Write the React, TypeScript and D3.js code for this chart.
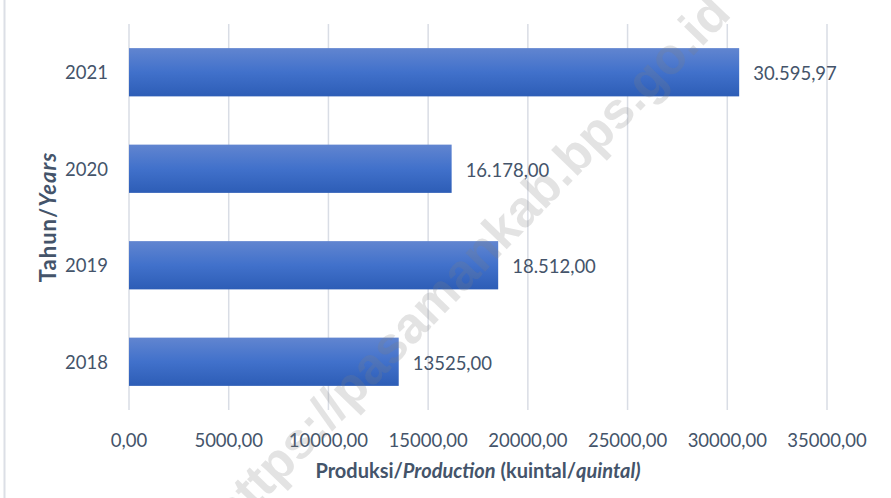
import { useEffect, useRef } from 'react'
import * as d3 from 'd3'

const years = ['2021', '2020', '2019', '2018']
const production = [30595.97, 16178.0, 18512.0, 13525.0]
const valueLabels = ['30.595,97', '16.178,00', '18.512,00', '13525,00']
const xTicks = [0, 5000, 10000, 15000, 20000, 25000, 30000, 35000]
const xMax = 35000

const width = 891
const height = 498
const textColor = '#44546a'
const font = 'Lato, "Open Sans", sans-serif'

export default function App() {
  const svgRef = useRef<SVGSVGElement>(null)

  useEffect(() => {
    if (!svgRef.current) return
    const svg = d3.select(svgRef.current)
    svg.selectAll('*').remove()

    const plot = { left: 129, right: 827, top: 24, bottom: 410 }

    const x = d3.scaleLinear().domain([0, xMax]).range([plot.left, plot.right])
    const y = d3.scaleBand<string>()
      .domain(years)
      .range([plot.top, plot.bottom])
      .paddingInner(0.5)
      .paddingOuter(0.25)

    const defs = svg.append('defs')
    const grad = defs.append('linearGradient')
      .attr('id', 'barGrad')
      .attr('x1', 0).attr('y1', 0).attr('x2', 0).attr('y2', 1)
    grad.append('stop').attr('offset', '0%').attr('stop-color', '#6185d0')
    grad.append('stop').attr('offset', '50%').attr('stop-color', '#4171cb')
    grad.append('stop').attr('offset', '100%').attr('stop-color', '#2d5db6')

    svg.append('rect')
      .attr('width', width).attr('height', height)
      .attr('fill', '#ffffff')

    // left frame edge
    svg.append('line')
      .attr('x1', 4.5).attr('x2', 4.5)
      .attr('y1', 0).attr('y2', height)
      .attr('stroke', '#dcdfe6')
      .attr('stroke-width', 2)

    // vertical gridlines
    svg.append('g')
      .selectAll('line')
      .data(xTicks)
      .enter().append('line')
      .attr('x1', d => x(d)).attr('x2', d => x(d))
      .attr('y1', plot.top).attr('y2', plot.bottom)
      .attr('stroke', '#d9dde5')
      .attr('stroke-width', 1.5)

    // bars
    svg.append('g')
      .selectAll('rect')
      .data(years)
      .enter().append('rect')
      .attr('x', x(0))
      .attr('y', d => y(d)!)
      .attr('width', (_, i) => x(production[i]) - x(0))
      .attr('height', y.bandwidth())
      .attr('fill', 'url(#barGrad)')

    // value labels
    svg.append('g')
      .selectAll('text')
      .data(years)
      .enter().append('text')
      .attr('x', (_, i) => x(production[i]) + 14)
      .attr('y', d => y(d)! + y.bandwidth() / 2 + 1)
      .attr('dominant-baseline', 'central')
      .attr('fill', textColor)
      .style('font-family', font)
      .style('font-size', '18.5px')
      .text((_, i) => valueLabels[i])

    // year labels
    svg.append('g')
      .selectAll('text')
      .data(years)
      .enter().append('text')
      .attr('x', 108)
      .attr('y', d => y(d)! + y.bandwidth() / 2)
      .attr('text-anchor', 'end')
      .attr('dominant-baseline', 'central')
      .attr('fill', textColor)
      .style('font-family', font)
      .style('font-size', '18.5px')
      .text(d => d)

    // x tick labels
    svg.append('g')
      .selectAll('text')
      .data(xTicks)
      .enter().append('text')
      .attr('x', d => x(d))
      .attr('y', 440)
      .attr('text-anchor', 'middle')
      .attr('dominant-baseline', 'central')
      .attr('fill', textColor)
      .style('font-family', font)
      .style('font-size', '18.5px')
      .text(d => `${d},00`)

    // x axis title
    const xt = svg.append('text')
      .attr('x', (plot.left + plot.right) / 2)
      .attr('y', 478)
      .attr('text-anchor', 'middle')
      .attr('fill', textColor)
      .style('font-family', font)
      .style('font-size', '20px')
      .style('font-weight', 'bold')
    xt.append('tspan').text('Produksi/')
    xt.append('tspan').style('font-style', 'italic').text('Production')
    xt.append('tspan').text(' (kuintal/')
    xt.append('tspan').style('font-style', 'italic').text('quintal)')

    // y axis title
    const yt = svg.append('text')
      .attr('transform', 'translate(56,217) rotate(-90)')
      .attr('text-anchor', 'middle')
      .attr('fill', textColor)
      .style('font-family', font)
      .style('font-size', '22px')
      .style('letter-spacing', '1px')
      .style('font-weight', 'bold')
    yt.append('tspan').text('Tahun/')
    yt.append('tspan').style('font-style', 'italic').text('Years')

    // watermark
    svg.append('text')
      .attr('transform', 'translate(470,262) rotate(-46)')
      .attr('text-anchor', 'middle')
      .attr('dominant-baseline', 'central')
      .attr('fill', '#7f7f7f')
      .attr('fill-opacity', 0.22)
      .style('font-family', '"Liberation Sans", Arial, sans-serif')
      .style('font-size', '51px')
      .style('font-weight', 'bold')
      .text('https://pasamankab.bps.go.id')
  }, [])

  return (
    <svg
      ref={svgRef}
      width={width}
      height={height}
      style={{ position: 'absolute', left: 0, top: 0, display: 'block' }}
    />
  )
}
